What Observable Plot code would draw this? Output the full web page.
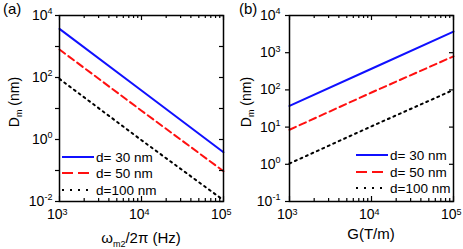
<!DOCTYPE html>
<html><head><meta charset="utf-8">
<script src="https://cdn.jsdelivr.net/npm/d3@7"></script>
<script src="https://cdn.jsdelivr.net/npm/@observablehq/plot@0.6"></script>
<style>
body{margin:0;background:#fff;}
#wrap{display:flex;width:463px;height:249px;overflow:hidden;}
#wrap svg{overflow:visible;display:block;}
</style></head><body><div id="wrap"></div>
<script>
// ---- data ----
const xValues = [1e3, 1e4, 1e5];
const seriesNames = ["d= 30 nm", "d= 50 nm", "d=100 nm"];
// panel (a): D_m vs omega_m2/2pi
const a30 = [3700, 38, 0.39];
const a50 = [800, 8.5, 0.095];
const a100 = [90, 0.95, 0.011];
// panel (b): D_m vs G
const b30 = [37, 370, 3700];
const b50 = [8.5, 85, 800];
const b100 = [1.05, 10.5, 100];
// ticks
const xMajor = [1e3, 1e4, 1e5];
const xMinor = [2e3,3e3,4e3,5e3,6e3,7e3,8e3,9e3,2e4,3e4,4e4,5e4,6e4,7e4,8e4,9e4];
const aYTicks = [1e-2, 1e-1, 1, 10, 100, 1e3, 1e4];
const aYLabels = [1e-2, 1, 100, 1e4];
const bYTicks = [1e-1, 1, 10, 100, 1e3, 1e4];
const bYLabels = [1e-1, 1, 10, 100, 1e3, 1e4];

// ---- styles ----
const styles = [
  {color: "#1010ff", dash: null, legendDash: null},
  {color: "#ff1010", dash: "7,4", legendDash: "11,5"},
  {color: "#000000", dash: "2,4", legendDash: "2,6"}
];
const FONT = "'Liberation Sans', Arial, Helvetica, sans-serif";

function expStr(v){ return String(Math.round(Math.log10(v))); }
function expWidth(e){ let w=0; for (const c of e) w += (c==="-"?3.2:5); return w; }

function panel(cfg){
  const {width, ml, mr, yDomain, series, yTicks, yLabels, labelGap} = cfg;
  const mt = 15, mb = 48, height = 249;
  const pw = width - ml - mr, ph = height - mt - mb;
  const marks = [];
  series.forEach((s, i) => {
    marks.push(Plot.line(xValues.map((x, j) => ({x, y: s[j]})), {
      x: "x", y: "y", stroke: styles[i].color, strokeWidth: 2,
      strokeDasharray: styles[i].dash
    }));
  });
  const tk = {stroke: "#000", strokeWidth: 1.2};
  marks.push(Plot.ruleX(xMajor, {x: d => d, insetTop: ph - 5, ...tk}));
  marks.push(Plot.ruleX(xMinor, {x: d => d, insetTop: ph - 3, ...tk}));
  marks.push(Plot.ruleX(xMajor, {x: d => d, insetBottom: ph - 5, ...tk}));
  marks.push(Plot.ruleX(xMinor, {x: d => d, insetBottom: ph - 3, ...tk}));
  marks.push(Plot.ruleY(yTicks, {y: d => d, insetLeft: -4, insetRight: pw, ...tk}));
  marks.push(Plot.ruleY(yTicks, {y: d => d, insetLeft: pw - 4, ...tk}));
  marks.push(Plot.frame({stroke: "#000", strokeWidth: 1.5}));
  // x tick labels
  xMajor.forEach(v => {
    const e = expStr(v);
    marks.push(Plot.text([v], {x: d => d, frameAnchor: "bottom", text: () => "10",
      dy: 17, dx: 3, textAnchor: "end", fontSize: 14, fill: "#000"}));
    marks.push(Plot.text([v], {x: d => d, frameAnchor: "bottom", text: () => e,
      dy: 13, dx: 3, textAnchor: "start", fontSize: 9, fill: "#000"}));
  });
  // y tick labels
  yLabels.forEach(v => {
    const e = expStr(v);
    marks.push(Plot.text([v], {y: d => d, frameAnchor: "left", text: () => "10",
      dx: -(labelGap + expWidth(e)), textAnchor: "end", fontSize: 14, fill: "#000"}));
    marks.push(Plot.text([v], {y: d => d, frameAnchor: "left", text: () => e,
      dx: -labelGap, dy: -4, textAnchor: "end", fontSize: 9, fill: "#000"}));
  });
  const svg = Plot.plot({
    width, height, marginLeft: ml, marginRight: mr, marginTop: mt, marginBottom: mb,
    x: {type: "log", domain: [1e3, 1e5], axis: null},
    y: {type: "log", domain: yDomain, axis: null},
    style: {fontFamily: FONT, background: "transparent", overflow: "visible"},
    marks
  });
  const g = d3.select(svg);
  // panel tag
  g.append("text").attr("x", cfg.tagX).attr("y", 14).attr("font-size", 15)
    .attr("text-anchor", "start").attr("fill", "#000")
    .attr("font-family", FONT).text(cfg.tag);
  // y title
  const yt = g.append("text").attr("transform", `translate(${cfg.yTitleX},102) rotate(-90)`)
    .attr("text-anchor", "middle").attr("font-size", 14).attr("fill", "#000").attr("font-family", FONT);
  yt.append("tspan").text("D");
  yt.append("tspan").attr("dy", 3).attr("font-size", 9).text("m");
  yt.append("tspan").attr("dy", -3).text(" (nm)");
  // x title
  const xt = g.append("text").attr("x", ml + pw / 2).attr("y", cfg.xTitleY)
    .attr("text-anchor", "middle").attr("font-size", 15).attr("fill", "#000").attr("font-family", FONT);
  cfg.xTitle.forEach(p => {
    const t = xt.append("tspan").text(p.t);
    if (p.sub) t.attr("dy", 4).attr("font-size", 9);
    if (p.up) t.attr("dy", -4);
  });
  // legend
  seriesNames.forEach((name, i) => {
    const y = cfg.legendRows[i];
    g.append("line").attr("x1", cfg.legendX).attr("x2", cfg.legendX + 32)
      .attr("y1", y).attr("y2", y).attr("stroke", styles[i].color).attr("stroke-width", 2)
      .attr("stroke-dasharray", styles[i].legendDash);
    g.append("text").attr("x", cfg.legendX + 34).attr("y", y + 4.5).attr("font-size", 13.5)
      .attr("text-anchor", "start").attr("fill", "#000")
      .attr("font-family", FONT).text(name);
  });
  return svg;
}

const wrap = document.getElementById("wrap");
wrap.appendChild(panel({
  width: 232, ml: 59, mr: 9, yDomain: [1e-2, 1e4], series: [a30, a50, a100],
  yTicks: aYTicks, yLabels: aYLabels, labelGap: 7, tag: "(a)", tagX: 3, yTitleX: 19,
  xTitleY: 243, legendX: 62, legendRows: [157, 173, 190],
  xTitle: [{t: "ω"}, {t: "m2", sub: true}, {t: "/2π (Hz)", up: true}]
}));
wrap.appendChild(panel({
  width: 231, ml: 57, mr: 10, yDomain: [1e-1, 1e4], series: [b30, b50, b100],
  yTicks: bYTicks, yLabels: bYLabels, labelGap: 9, tag: "(b)", tagX: 7, yTitleX: 19,
  xTitleY: 239, legendX: 124, legendRows: [155, 172, 188],
  xTitle: [{t: "G(T/m)"}]
}));
</script></body></html>
